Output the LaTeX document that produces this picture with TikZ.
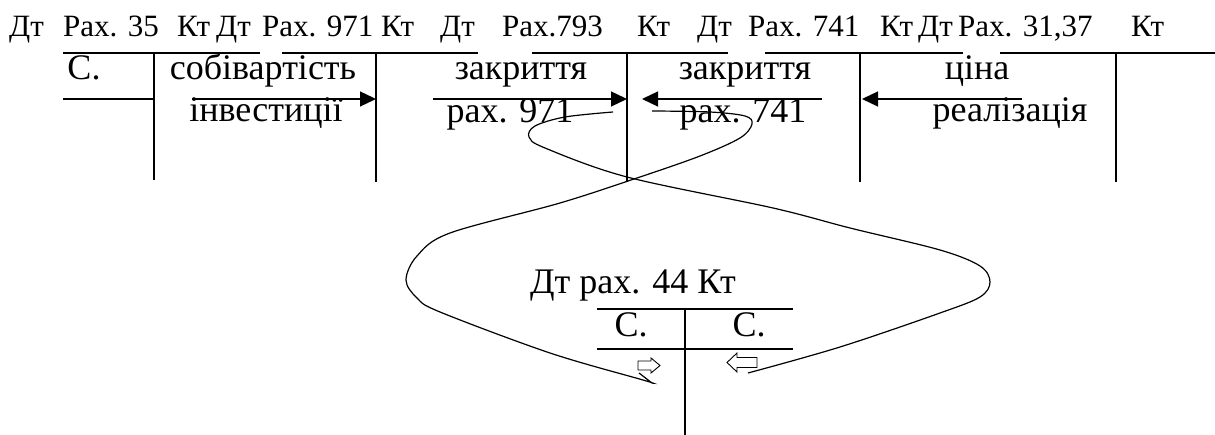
\documentclass[tikz,border=0pt]{standalone}
\usepackage{fontspec}
\setmainfont{Liberation Serif}
\usetikzlibrary{arrows.meta}
\begin{document}
\begin{tikzpicture}[x=1pt,y=-1pt,
  hdr/.style={anchor=base west, inner sep=0pt, font=\fontsize{31}{34}\selectfont},
  txt/.style={anchor=base, inner sep=0pt, font=\fontsize{36}{40}\selectfont},
  tline/.style={line width=1.3pt},
  arr/.style={line width=1.3pt, -{Triangle[length=16pt,width=15pt]}},
  loopc/.style={line width=1.2pt},
  hol/.style={line width=0.9pt, fill=white, line join=miter}]
\useasboundingbox (0,0) rectangle (1215,435);

% header
\node[hdr] (h1) at (9,37) {Дт};
\node[hdr] (h2) at (63,37) {Рах. 35};
\node[hdr] (h3) at (177,37) {Кт};
\node[hdr] (h4) at (216,37) {Дт};
\node[hdr] (h5) at (262,37) {Рах. 971};
\node[hdr] (h6) at (381,37) {Кт};
\node[hdr] (h7) at (440,37) {Дт};
\node[hdr] (h8) at (502,37) {Рах.793};
\node[hdr] (h9) at (637,37) {Кт};
\node[hdr] (h10) at (697,37) {Дт};
\node[hdr] (h11) at (748,37) {Рах. 741};
\node[hdr] (h12) at (880,37) {Кт};
\node[hdr] (h13) at (918,37) {Дт};
\node[hdr] (h14) at (958,37) {Рах. 31,37};
\node[hdr] (h15) at (1131,37) {Кт};

% T-account top lines
\draw[tline] (63,53) -- (260,53);
\draw[tline] (282,53) -- (478,53);
\draw[tline] (532,53) -- (728,53);
\draw[tline] (765,53) -- (963,53);
\draw[tline] (1000,53) -- (1215,53);

% verticals
\coordinate (v1t) at (154,53); \coordinate (v1b) at (154,180);
\coordinate (v2t) at (376,53); \coordinate (v2b) at (376,182);
\coordinate (v3t) at (627,53); \coordinate (v3b) at (627,182);
\coordinate (v4t) at (860,53); \coordinate (v4b) at (860,182);
\coordinate (v5t) at (1116,53); \coordinate (v5b) at (1116,182);
\draw[tline] (v1t) -- (v1b);
\draw[tline] (v2t) -- (v2b);
\draw[tline] (v3t) -- (v3b);
\draw[tline] (v4t) -- (v4b);
\draw[tline] (v5t) -- (v5b);
\draw[tline] (63,99) -- (154,99);

% texts
\node[txt] (t1) at (84,80) {С.};
\node[txt] (t2) at (263,80) {собівартість};
\node[txt] (t3) at (266,122) {інвестиції};
\node[txt] (t4) at (521,80) {закриття};
\node[txt] (t5) at (510,123) {рах. 971};
\node[txt] (t6) at (745,80) {закриття};
\node[txt] (t7) at (743,123) {рах. 741};
\node[txt] (t8) at (977,80) {ціна};
\node[txt] (t9) at (1010,122) {реалізація};

% arrows
\coordinate (a1s) at (192,99); \coordinate (a1e) at (376,99);
\coordinate (a2s) at (433,99); \coordinate (a2e) at (627,99);
\coordinate (a3s) at (822,99); \coordinate (a3e) at (642,99);
\coordinate (a4s) at (1022,99); \coordinate (a4e) at (862,99);
\draw[arr] (a1s) -- (a1e);
\draw[arr] (a2s) -- (a2e);
\draw[arr] (a3s) -- (a3e);
\draw[arr] (a4s) -- (a4e);

% loops
\draw[loopc] plot[smooth, tension=0.55] coordinates {(613,112) (565,117) (535,126) (529,137) (545,148) (627,177) (773,208) (850,228) (940,250) (980,266) (990,282) (980,297) (940,313) (840,347) (748,373)};
\draw[loopc] plot[smooth, tension=0.55] coordinates {(652,111) (710,112) (745,116) (752,124) (740,138) (700,156) (637,178) (560,203) (450,233) (417,256) (406,280) (417,298) (440,312) (550,353) (643,380) (652,383)} -- (639,373);

% account 44
\node[txt] (b0) at (633,294) {Дт рах. 44 Кт};
\draw[tline] (597,309) -- (793,309);
\draw[tline] (597,349) -- (793,349);
\draw[tline] (685,309) -- (685,435);
\node[txt] (b1) at (631,337) {С.};
\node[txt] (b2) at (749,337) {С.};
\draw[hol] (638,361) -- (651,361) -- (651,358) -- (660,365.5) -- (651,373) -- (651,370) -- (638,370) -- cycle;
\draw[hol] (727,362.5) -- (737,353) -- (737,357.5) -- (757,357.5) -- (757,367.5) -- (737,367.5) -- (737,372) -- cycle;
\end{tikzpicture}
\end{document}
